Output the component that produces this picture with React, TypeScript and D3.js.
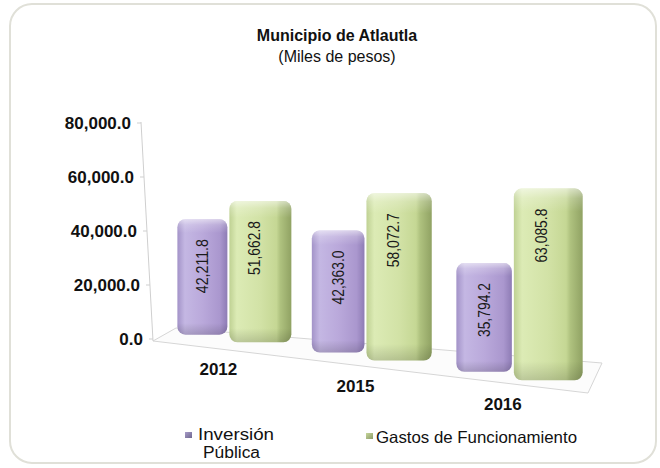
import React from 'react';
import * as d3 from 'd3';

const categories = ['2012', '2015', '2016'];
const inversion = [42211.8, 42363.0, 35794.2];
const gastos = [51662.8, 58072.7, 63085.8];
const yTicks = [0, 20000, 40000, 60000, 80000];
const seriesNames = ['Inversión', 'Pública', 'Gastos de Funcionamiento'];
const titleText = 'Municipio de Atlautla';
const subtitleText = '(Miles de pesos)';

const W = 660;
const H = 468;
const FONT = '"Liberation Sans", Arial, sans-serif';

export default function App() {
  const fmt = d3.format(',.1f');
  const yScale = d3.scaleLinear().domain([0, 80000]).range([339, 123]);
  const hScale = d3.scaleLinear().domain([0, 80000]).range([0, 219]);
  const axisX = d3.scaleLinear().domain([123, 339]).range([141, 153]);
  const band = d3.scaleBand<string>().domain(categories).range([0, 1]).padding(0);
  const xProj = d3.scalePow().exponent(1.1).domain([0, 1]).range([170, 589]);
  const sizeF = d3.scaleLinear().domain([229, 513]).range([1, 1.11]);
  const baseY = d3.scaleLinear().domain([205, 546]).range([335, 380]);
  const labelY = d3.scaleLinear().domain([219, 505]).range([375, 410]);

  const floor = [
    [153, 341],
    [176, 328],
    [602, 363],
    [588, 393],
  ];
  const floorPath = d3.line()(floor as [number, number][]) + 'Z';

  const bars: any[] = [];
  categories.forEach((c, i) => {
    const u = (band(c) as number) + band.bandwidth() / 2;
    const bx = xProj(u);
    const s = sizeF(bx);
    const pw = 50 * s;
    const px = bx - pw - 1;
    const pcx = px + pw / 2;
    const pb = baseY(pcx);
    const ph = hScale(inversion[i]) * s;
    bars.push({ key: 'p' + c, x: px, w: pw, y: pb - ph, h: ph, fill: 'url(#gP)', lx: pcx, val: inversion[i] });
    const gw = 62 * s;
    const gx = bx + 1;
    const gcx = gx + gw / 2;
    const gb = baseY(gcx);
    const gh = hScale(gastos[i]) * s;
    bars.push({ key: 'g' + c, x: gx, w: gw, y: gb - gh, h: gh, fill: 'url(#gG)', lx: gx + 25 * s, val: gastos[i] });
  });

  const cats = categories.map((c) => {
    const u = (band(c) as number) + band.bandwidth() / 2;
    const bx = xProj(u);
    return { c, x: bx - 10, y: labelY(bx - 10) };
  });

  return (
    <svg width={W} height={H} style={{ position: 'absolute', left: 0, top: 0 }} fontFamily={FONT}>
      <defs>
        <linearGradient id="gP" x1="0" y1="0" x2="1" y2="0">
          <stop offset="0%" stopColor="#a393c8" />
          <stop offset="15%" stopColor="#c4b7e3" />
          <stop offset="50%" stopColor="#baa9db" />
          <stop offset="85%" stopColor="#aa97ce" />
          <stop offset="100%" stopColor="#8e7cb5" />
        </linearGradient>
        <linearGradient id="gG" x1="0" y1="0" x2="1" y2="0">
          <stop offset="0%" stopColor="#bfd193" />
          <stop offset="12%" stopColor="#dcebb5" />
          <stop offset="50%" stopColor="#d2e2a6" />
          <stop offset="76%" stopColor="#c5d794" />
          <stop offset="82%" stopColor="#afc27f" />
          <stop offset="100%" stopColor="#90a263" />
        </linearGradient>
        <linearGradient id="gV" x1="0" y1="0" x2="0" y2="1">
          <stop offset="0%" stopColor="#ffffff" stopOpacity="0.55" />
          <stop offset="5%" stopColor="#ffffff" stopOpacity="0.2" />
          <stop offset="12%" stopColor="#ffffff" stopOpacity="0" />
          <stop offset="90%" stopColor="#000000" stopOpacity="0" />
          <stop offset="100%" stopColor="#000000" stopOpacity="0.15" />
        </linearGradient>
        <linearGradient id="mP" x1="0" y1="0" x2="1" y2="1">
          <stop offset="0%" stopColor="#a79bc8" />
          <stop offset="100%" stopColor="#6f678f" />
        </linearGradient>
        <linearGradient id="mG" x1="0" y1="0" x2="1" y2="1">
          <stop offset="0%" stopColor="#c6d69a" />
          <stop offset="100%" stopColor="#8d9c6a" />
        </linearGradient>
      </defs>
      <rect x={0} y={0} width={W} height={H} fill="#ffffff" />
      <rect x={10} y={4} width={646} height={459} rx={22} fill="#ffffff" stroke="#e0e0d8" strokeWidth={2} />

      <text x={337} y={41} textAnchor="middle" fontSize={16} fontWeight="bold" fill="#111">{titleText}</text>
      <text x={337} y={62} textAnchor="middle" fontSize={16} fill="#111">{subtitleText}</text>

      <path d={floorPath} fill="#fcfcfc" stroke="#d6d6d6" strokeWidth={1} />
      <line x1={axisX(123)} y1={yScale(80000) - 1} x2={axisX(339)} y2={yScale(0) + 2} stroke="#cfcfcf" strokeWidth={1} />
      {yTicks.map((t) => {
        const y = yScale(t);
        const ax = axisX(y);
        return (
          <g key={t}>
            <line x1={ax - 4} y1={y} x2={ax} y2={y} stroke="#cfcfcf" />
            <text x={ax - 10} y={y} dy="0.35em" textAnchor="end" fontSize={17} fontWeight="bold" fill="#111">
              {fmt(t)}
            </text>
          </g>
        );
      })}

      {bars.map((b) => (
        <g key={b.key}>
          <rect x={b.x} y={b.y} width={b.w} height={b.h} rx={8} fill={b.fill} />
          <rect x={b.x} y={b.y} width={b.w} height={b.h} rx={8} fill="url(#gV)" />
          <text
            transform={`translate(${b.lx},${b.y + 20}) rotate(-90)`}
            textAnchor="end"
            dy="0.36em"
            fontSize={16}
            textLength={54}
            lengthAdjust="spacingAndGlyphs"
            fill="#1a1a1a"
          >
            {fmt(b.val)}
          </text>
        </g>
      ))}

      {cats.map((c) => (
        <text key={c.c} x={c.x} y={c.y} textAnchor="middle" fontSize={17} fontWeight="bold" fill="#111">
          {c.c}
        </text>
      ))}

      <rect x={185} y={432} width={7} height={6} fill="url(#mP)" />
      <text x={198} y={440} fontSize={16} fill="#111" textLength={76} lengthAdjust="spacingAndGlyphs">{seriesNames[0]}</text>
      <text x={203} y={458} fontSize={16} fill="#111" textLength={57} lengthAdjust="spacingAndGlyphs">{seriesNames[1]}</text>
      <rect x={366} y={433} width={7} height={6} fill="url(#mG)" />
      <text x={376} y={443} fontSize={16.5} fill="#111" textLength={201} lengthAdjust="spacingAndGlyphs">{seriesNames[2]}</text>
    </svg>
  );
}
